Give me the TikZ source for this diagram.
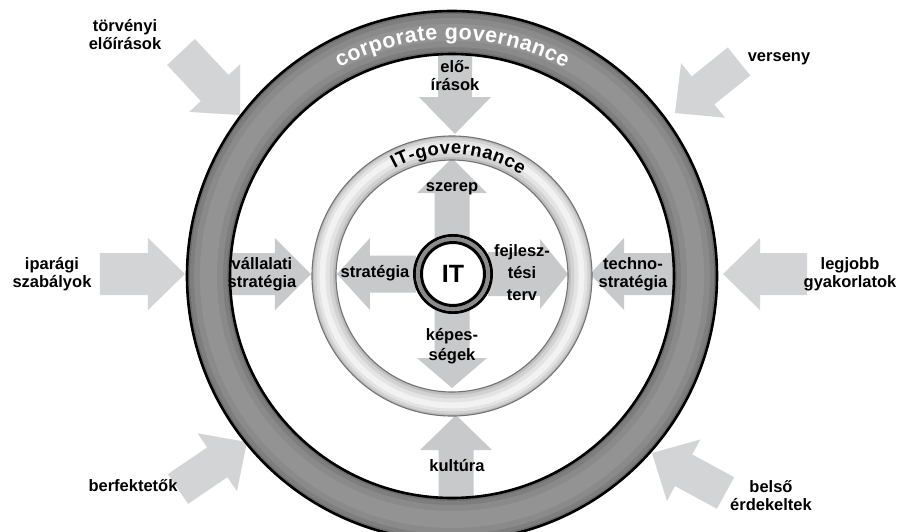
\documentclass[tikz,border=0pt]{standalone}
\usepackage{fontspec}
\setmainfont{Liberation Sans}
\usetikzlibrary{calc,decorations.text}

\definecolor{arrowout}{HTML}{D3D4D6}
\definecolor{arrowin}{HTML}{C8C9CB}
\definecolor{ringA}{HTML}{6E6E6E}
\definecolor{ringB}{HTML}{7E7E7E}
\definecolor{ringC}{HTML}{8A8A8A}
\definecolor{ringD}{HTML}{939393}
\definecolor{lightA}{HTML}{BDBDBD}
\definecolor{lightB}{HTML}{D2D2D2}
\definecolor{lightC}{HTML}{E3E3E3}
\definecolor{lightD}{HTML}{F2F2F2}
\definecolor{itband}{HTML}{8C8C8C}

% block arrow: [style]{tail}{tip}{half shaft}{half head}{head length}
\newcommand\blockarrow[6][]{%
  \coordinate (ba-h) at ($(#3)!#6!(#2)$);
  \fill[#1] ($(#2)!#4!90:(#3)$) -- ($(ba-h)!#4!90:(#3)$) -- ($(ba-h)!#5!90:(#3)$)
    -- (#3) -- ($(ba-h)!#5!-90:(#3)$) -- ($(ba-h)!#4!-90:(#3)$) -- ($(#2)!#4!-90:(#3)$) -- cycle;}

\begin{document}
\begin{tikzpicture}[x=1pt,y=1pt,
  lbl/.style={font=\bfseries\fontsize{16.5}{18}\selectfont, align=center, inner sep=0pt, text=black},
  outarrow/.style={fill=arrowout},
  inarrow/.style={fill=arrowin}]
\useasboundingbox (-452,-255) rectangle (447,276);
\clip (-452,-255) rectangle (447,276);
\fill[white] (-452,-255) rectangle (447,276);

% ---- arrow end points
\coordinate (a1s) at (-271,224);  \coordinate (a1e) at (-212,161);
\coordinate (a2s) at (287,214.5); \coordinate (a2e) at (223,163);
\coordinate (a3s) at (-352,2);    \coordinate (a3e) at (-267,2);
\coordinate (a4s) at (355,2);     \coordinate (a4e) at (271,2);
\coordinate (a5s) at (-274,-213); \coordinate (a5e) at (-205,-166);
\coordinate (a6s) at (273.5,-217);\coordinate (a6e) at (200,-177);

\coordinate (b1s) at (3,233);     \coordinate (b1e) at (3,142);
\coordinate (b2s) at (4,-226);    \coordinate (b2e) at (4,-139);
\coordinate (b3s) at (-227,2);    \coordinate (b3e) at (-141,2);
\coordinate (b4s) at (228,2);     \coordinate (b4e) at (138,2);

\coordinate (c1s) at (0,38);      \coordinate (c1e) at (0,118);
\coordinate (c2s) at (-36,2);     \coordinate (c2e) at (-115,2);
\coordinate (c3s) at (36,2);      \coordinate (c3e) at (116,2);
\coordinate (c4s) at (0,-34);     \coordinate (c4e) at (0,-112);

% ---- outer arrows
\blockarrow[outarrow]{a1s}{a1e}{19pt}{35pt}{37pt}
\blockarrow[outarrow]{a2s}{a2e}{18pt}{35pt}{36pt}
\blockarrow[outarrow]{a3s}{a3e}{21pt}{36pt}{37pt}
\blockarrow[outarrow]{a4s}{a4e}{21pt}{36pt}{37pt}
\blockarrow[outarrow]{a5s}{a5e}{18pt}{35pt}{36pt}
\blockarrow[outarrow]{a6s}{a6e}{18pt}{35pt}{36pt}

% ---- arrows between the rings
\blockarrow[inarrow]{b1s}{b1e}{17pt}{36pt}{37pt}
\blockarrow[inarrow]{b2s}{b2e}{17.5pt}{36pt}{35pt}
\blockarrow[inarrow]{b3s}{b3e}{21pt}{36pt}{36pt}
\blockarrow[inarrow]{b4s}{b4e}{21pt}{36pt}{34pt}

% ---- arrows around IT
\blockarrow[inarrow]{c1s}{c1e}{17.5pt}{35pt}{35pt}
\blockarrow[inarrow]{c2s}{c2e}{18.5pt}{36pt}{33pt}
\blockarrow[inarrow]{c3s}{c3e}{22pt}{35pt}{28pt}
\blockarrow[inarrow]{c4s}{c4e}{17.5pt}{35pt}{30pt}

% ---- corporate governance ring
\draw[ringA, line width=43] (0,0) circle (243.5);
\draw[ringB, line width=37] (0,0) circle (243.5);
\draw[ringC, line width=29] (0,0) circle (243.5);
\draw[ringD, line width=17] (0,0) circle (243.5);
\draw[black, line width=2.6] (0,0) circle (265) (0,0) circle (222);

% ---- IT-governance ring
\draw[lightA, line width=24] (0,0) circle (128);
\draw[lightB, line width=19] (0,0) circle (128.5);
\draw[lightC, line width=13] (0,0) circle (129);
\draw[lightD, line width=6] (0,0) circle (129.5);
\draw[gray!90!black, line width=1.1] (0,0) circle (140) (0,0) circle (116);

% ---- curved titles (each letter slightly padded)
\path[decorate, decoration={text along path, text align=center,
  text={|\bfseries\fontsize{21.5}{21.5}\selectfont\color{white}\kern0.5pt|corporate governance}}]
  (160:236.5) arc[start angle=160, end angle=20, radius=236.5];
\path[decorate, decoration={text along path, text align=center,
  text={|\bfseries\fontsize{18.5}{18.5}\selectfont\color{black}\kern0.6pt|IT-governance}}]
  (167:122) arc[start angle=167, end angle=7, radius=122];

% ---- IT core
\fill[white] (1,2) circle (38);
\draw[black, line width=3] (1,2) circle (38.5);
\draw[itband, line width=4.2] (1,2) circle (35);
\draw[black, line width=3] (1,2) circle (31.5);
\node[inner sep=0pt, font=\bfseries\fontsize{25}{25}\selectfont] (it) at (1,2) {IT};

% ---- labels
\node[lbl] (l1) at (-327,241) {törvényi\\előírások};
\node[lbl] (l2) at (327,217) {verseny};
\node[lbl] (l3) at (-400,2) {iparági\\szabályok};
\node[lbl] (l4) at (398,2) {legjobb\\gyakorlatok};
\node[lbl] (l5) at (-319,-210) {berfektetők};
\node[lbl] (l6) at (319,-220) {belső\\érdekeltek};

\node[lbl] (m1) at (3,200) {elő-\\írások};
\node[lbl] (m2) at (5,-190) {kultúra};
\node[lbl] (m3) at (-190,2) {vállalati\\stratégia};
\node[lbl] (m4) at (181,2) {techno-\\stratégia};

\node[lbl] (n1) at (0,87) {szerep};
\node[lbl] (n2) at (-77,3) {stratégia};
\node[lbl, font=\bfseries\fontsize{16.5}{22}\selectfont] (n3) at (70,3) {fejlesz-\\tési\\terv};
\node[lbl, font=\bfseries\fontsize{16.5}{20}\selectfont] (n4) at (0,-70) {képes-\\ségek};
\end{tikzpicture}
\end{document}
